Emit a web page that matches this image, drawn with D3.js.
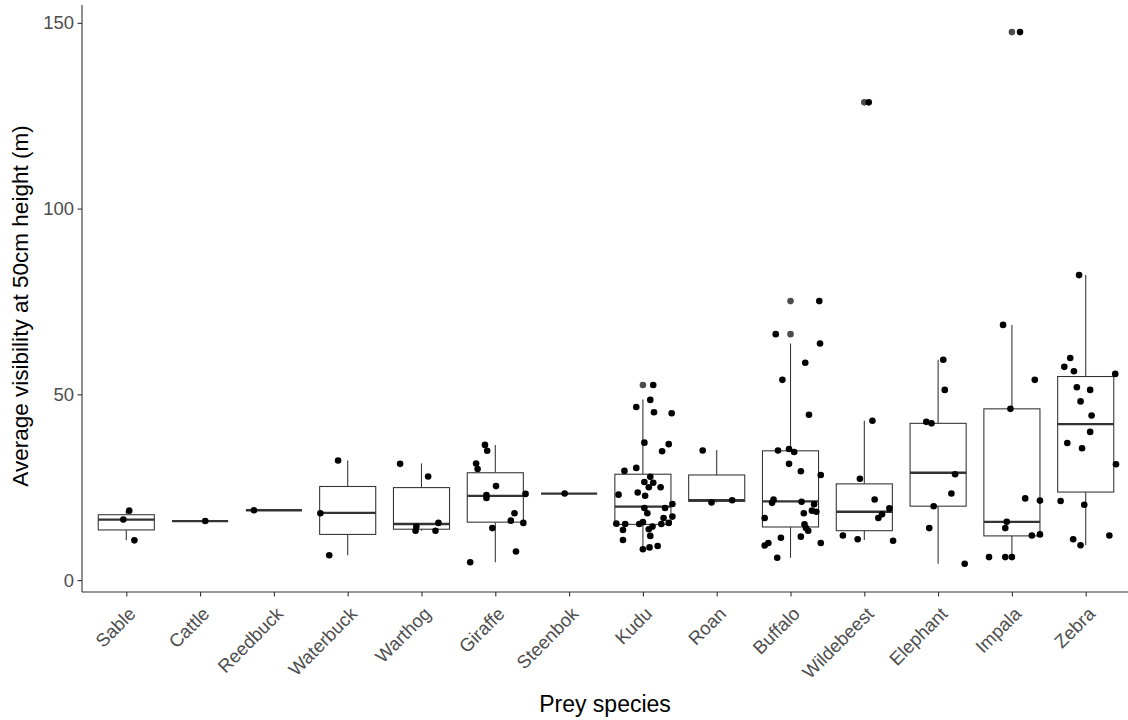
<!DOCTYPE html>
<html>
<head>
<meta charset="utf-8">
<script src="https://cdn.jsdelivr.net/npm/d3@7"></script>
<style>
  html, body { margin: 0; padding: 0; background: #fff; }
  svg { display: block; font-family: "Liberation Sans", Arial, sans-serif; }
</style>
</head>
<body>
<svg id="chart" width="1128" height="720"></svg>
<script>
// ---------- data ----------
const categories = ["Sable","Cattle","Reedbuck","Waterbuck","Warthog","Giraffe","Steenbok",
  "Kudu","Roan","Buffalo","Wildebeest","Elephant","Impala","Zebra"];

const whiskerLow  = [10.7, 15.9, 18.8,  6.7, 13.3,  4.8, 23.3,  8.3, 20.9,  6.0, 10.8,  4.4,  6.2,  9.4];
const boxQ1       = [13.5, 15.9, 18.8, 12.3, 13.7, 15.6, 23.3, 15.0, 21.2, 14.3, 13.3, 19.9, 11.9, 23.7];
const boxMedian   = [16.3, 15.9, 18.8, 18.1, 15.1, 22.7, 23.3, 19.8, 21.5, 21.2, 18.4, 28.9, 15.7, 42.0];
const boxQ3       = [17.6, 15.9, 18.8, 25.2, 24.9, 28.9, 23.3, 28.5, 28.3, 34.8, 25.9, 42.2, 46.1, 54.8];
const whiskerHigh = [18.7, 15.9, 18.8, 32.2, 31.4, 36.4, 23.3, 48.6, 35.0, 63.7, 42.9, 59.3, 68.7, 82.1];

const outlierCategory = ["Kudu","Buffalo","Buffalo","Wildebeest","Impala"];
const outlierValue    = [52.5, 75.1, 66.2, 128.6, 147.5];

// jittered observations: [horizontal jitter (category units), value]
const sablePts = [[0.04,18.7],[-0.04,16.3],[0.11,10.7]];
const cattlePts = [[0.07,15.9]];
const reedbuckPts = [[-0.27,18.8]];
const waterbuckPts = [[-0.13,32.2],[-0.37,18.0],[-0.25,6.7]];
const warthogPts = [[-0.29,31.3],[0.09,27.9],[-0.07,14.4],[-0.08,13.3],[0.19,13.3],[0.23,15.4]];
const giraffePts = [[-0.14,36.4],[-0.11,34.8],[-0.26,31.4],[-0.24,29.9],[0.01,25.3],[-0.12,22.9],
  [-0.12,22.1],[0.41,23.2],[0.26,18.0],[0.21,16.0],[0.38,15.4],[-0.04,14.0],[0.28,7.7],[-0.34,4.8]];
const steenbokPts = [[-0.06,23.3]];
const kuduPts = [[0.14,52.5],[0.10,48.5],[-0.09,46.6],[0.15,45.2],[0.39,44.9],[0.02,37.0],[0.35,36.6],
  [0.26,34.7],[-0.25,29.4],[-0.09,30.2],[0.10,27.8],[0.02,26.4],[0.14,26.2],[0.08,25.0],[0.24,25.0],
  [-0.07,23.6],[-0.33,23.0],[0.03,22.7],[0.02,19.4],[0.30,19.4],[0.06,18.0],[0.40,20.5],[0.40,17.1],
  [0.28,16.7],[-0.36,15.2],[-0.24,15.1],[-0.05,15.1],[0.00,15.6],[0.35,15.4],[0.25,15.1],[0.13,14.4],
  [0.08,13.7],[-0.27,13.5],[0.10,11.9],[-0.27,10.8],[0.20,9.2],[0.09,8.8],[0.00,8.3]];
const roanPts = [[-0.19,34.9],[-0.07,20.9],[0.21,21.5]];
const buffaloPts = [[0.39,75.1],[-0.20,66.2],[0.40,63.7],[0.20,58.5],[-0.11,53.9],[0.25,44.5],
  [-0.17,34.9],[-0.02,35.3],[0.05,34.5],[-0.02,31.3],[0.14,29.3],[0.41,28.3],[-0.23,21.7],[-0.25,20.8],
  [0.15,21.1],[0.32,20.4],[0.18,18.0],[0.29,18.7],[0.35,18.4],[-0.35,16.7],[0.19,15.0],[0.21,14.0],
  [0.24,13.3],[-0.13,11.4],[0.14,11.7],[-0.30,10.0],[-0.35,9.3],[0.41,10.0],[-0.18,6.0]];
const wildebeestPts = [[0.06,128.6],[0.11,42.9],[-0.06,27.3],[0.14,21.7],[0.34,19.3],[0.24,17.7],
  [0.19,16.7],[-0.29,12.0],[-0.09,11.0],[0.39,10.6]];
const elephantPts = [[0.07,59.3],[0.09,51.2],[-0.16,42.6],[-0.09,42.2],[0.23,28.5],[0.18,23.3],
  [-0.06,19.9],[-0.12,14.0],[0.36,4.4]];
const impalaPts = [[0.11,147.5],[-0.12,68.7],[0.31,53.9],[-0.02,46.1],[0.18,22.0],[0.38,21.4],
  [-0.07,15.7],[-0.09,14.0],[0.27,12.0],[0.38,12.3],[-0.31,6.2],[-0.09,6.2],[0.00,6.2]];
const zebraPts = [[-0.09,82.1],[-0.21,59.8],[-0.29,57.4],[-0.16,56.2],[0.40,55.5],[-0.12,51.9],
  [0.06,51.2],[-0.07,48.1],[0.08,44.3],[0.06,39.9],[-0.25,36.9],[-0.05,35.5],[0.41,31.2],
  [-0.34,21.3],[-0.02,20.3],[-0.17,11.0],[-0.07,9.4],[0.32,12.0]];

const pointSets = [sablePts, cattlePts, reedbuckPts, waterbuckPts, warthogPts, giraffePts, steenbokPts,
  kuduPts, roanPts, buffaloPts, wildebeestPts, elephantPts, impalaPts, zebraPts];

const yTicks = [0, 50, 100, 150];
const yTitle = "Average visibility at 50cm height (m)";
const xTitle = "Prey species";

// ---------- layout ----------
const svg = d3.select("#chart");
const pL = 82, pR = 1130, pT = 5, pB = 592;

const x = d3.scalePoint().domain(categories).range([pL, pR]).padding(0.6);
const step = x.step();
const boxW = step * 0.76;
const y = d3.scaleLinear().domain([-3.2, 154.8]).range([pB, pT]);

const ink = "#333333";
const tickFont = 18.5;
const titleFont = 23;

const boxes = categories.map((c, i) => ({
  c, lo: whiskerLow[i], q1: boxQ1[i], med: boxMedian[i], q3: boxQ3[i], hi: whiskerHigh[i]
}));

const g = svg.append("g");

// whiskers
g.selectAll("line.wlo").data(boxes).join("line")
  .attr("x1", d => x(d.c)).attr("x2", d => x(d.c))
  .attr("y1", d => y(d.lo)).attr("y2", d => y(d.q1))
  .attr("stroke", ink).attr("stroke-width", 1.07);
g.selectAll("line.whi").data(boxes).join("line")
  .attr("x1", d => x(d.c)).attr("x2", d => x(d.c))
  .attr("y1", d => y(d.q3)).attr("y2", d => y(d.hi))
  .attr("stroke", ink).attr("stroke-width", 1.07);

// boxes
g.selectAll("rect.box").data(boxes).join("rect")
  .attr("x", d => x(d.c) - boxW / 2).attr("width", boxW)
  .attr("y", d => y(d.q3)).attr("height", d => Math.max(0, y(d.q1) - y(d.q3)))
  .attr("fill", "#fff").attr("stroke", ink).attr("stroke-width", 1.07);

// medians
g.selectAll("line.med").data(boxes).join("line")
  .attr("x1", d => x(d.c) - boxW / 2).attr("x2", d => x(d.c) + boxW / 2)
  .attr("y1", d => y(d.med)).attr("y2", d => y(d.med))
  .attr("stroke", ink).attr("stroke-width", 2.3);

// outliers
const outs = outlierCategory.map((c, i) => ({ c, v: outlierValue[i] }));
g.selectAll("circle.out").data(outs).join("circle")
  .attr("cx", d => x(d.c)).attr("cy", d => y(d.v)).attr("r", 3.3)
  .attr("fill", "#4d4d4d");

// jittered points
const pts = [];
pointSets.forEach((arr, i) => arr.forEach(([j, v]) => pts.push({ c: categories[i], j, v })));
g.selectAll("circle.pt").data(pts).join("circle")
  .attr("cx", d => x(d.c) + d.j * step).attr("cy", d => y(d.v)).attr("r", 3.3)
  .attr("fill", "#000");

// ---------- axes ----------
const yAxis = svg.append("g").attr("transform", `translate(${pL},0)`)
  .call(d3.axisLeft(y).tickValues(yTicks).tickSize(4.5).tickPadding(3.5).tickFormat(d3.format("d")));
yAxis.select(".domain").attr("d", `M0,${pT}V${pB}`).attr("stroke", ink).attr("stroke-width", 1.1);
yAxis.selectAll(".tick line").attr("stroke", ink).attr("stroke-width", 1.1);
yAxis.selectAll(".tick text").attr("fill", "#4d4d4d").attr("font-size", tickFont)
  .attr("font-family", "Liberation Sans, Arial, sans-serif");

const xAxis = svg.append("g").attr("transform", `translate(0,${pB})`)
  .call(d3.axisBottom(x).tickSize(4.5).tickPadding(3));
xAxis.select(".domain").attr("d", `M${pL},0H${pR}`).attr("stroke", ink).attr("stroke-width", 1.1);
xAxis.selectAll(".tick line").attr("stroke", ink).attr("stroke-width", 1.1);
xAxis.selectAll(".tick text")
  .attr("fill", "#4d4d4d").attr("font-size", tickFont)
  .attr("font-family", "Liberation Sans, Arial, sans-serif")
  .attr("text-anchor", "end")
  .attr("dy", null).attr("y", null)
  .attr("transform", "translate(10,23) rotate(-45)");

// titles
svg.append("text")
  .attr("x", (pL + pR) / 2 - 1).attr("y", 712)
  .attr("text-anchor", "middle").attr("font-size", titleFont).attr("fill", "#000")
  .text(xTitle);
svg.append("text")
  .attr("transform", `translate(28,306) rotate(-90)`)
  .attr("text-anchor", "middle").attr("font-size", titleFont * 0.98).attr("fill", "#000")
  .text(yTitle);
</script>
</body>
</html>
